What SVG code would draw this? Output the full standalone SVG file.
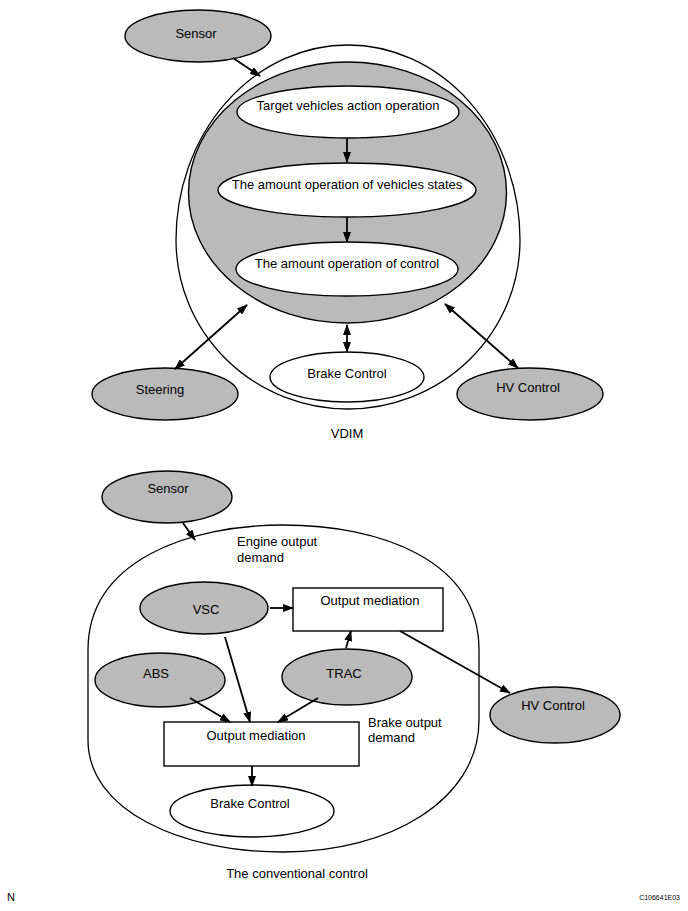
<svg xmlns="http://www.w3.org/2000/svg" width="688" height="911" viewBox="0 0 688 911">
<style>
text{font-family:"Liberation Sans",Arial,sans-serif;font-size:13px;fill:#000}
.c{text-anchor:middle}
.g{fill:#bababa;stroke:#000;stroke-width:1.4}
.w{fill:#fff;stroke:#000;stroke-width:1.4}
.ln{fill:none;stroke:#000;stroke-width:1.3}
.a{fill:none;stroke:#000;stroke-width:1.8;marker-end:url(#ah)}
.d{fill:none;stroke:#000;stroke-width:1.8;marker-start:url(#ah);marker-end:url(#ah)}
</style>
<defs>
<marker id="ah" markerUnits="userSpaceOnUse" markerWidth="11" markerHeight="8" refX="10" refY="4" orient="auto-start-reverse">
<path d="M0,0 L11,4 L0,8 z" fill="#000"/>
</marker>
</defs>
<rect width="688" height="911" fill="#fff"/>

<!-- VDIM section -->
<g id="vdim-outer"><path class="ln" fill="#fff" d="M176,240 A172,195 0 0 1 520,240 A172,169 0 0 1 176,240 Z"/></g>
<g id="vdim-core"><ellipse class="g" cx="347.5" cy="192.5" rx="159" ry="130.5"/></g>
<g id="sensor1"><ellipse class="g" cx="198" cy="36" rx="73" ry="26"/><text class="c" x="196" y="38">Sensor</text></g>
<g id="target"><ellipse class="w" cx="348" cy="112" rx="111" ry="26"/><text class="c" x="348" y="110">Target vehicles action operation</text></g>
<g id="states"><ellipse class="w" cx="347" cy="190" rx="129" ry="27"/><text class="c" x="347" y="189">The amount operation of vehicles states</text></g>
<g id="control"><ellipse class="w" cx="347" cy="269" rx="111" ry="27"/><text class="c" x="347" y="268">The amount operation of control</text></g>
<g id="steering"><ellipse class="g" cx="165" cy="394" rx="73" ry="26"/><text class="c" x="160" y="394">Steering</text></g>
<g id="brake1"><ellipse class="w" cx="347" cy="377" rx="77" ry="25"/><text class="c" x="347" y="378">Brake Control</text></g>
<g id="hv1"><ellipse class="g" cx="530" cy="394" rx="73" ry="26"/><text class="c" x="528" y="392">HV Control</text></g>
<text class="c" x="347" y="438">VDIM</text>

<!-- Conventional section -->
<g id="conv-outer"><path class="ln" d="M88,740 L88,650 C88,560 190,525 283,525 C380,525 479,560 479,650 L479,720 C479,800 390,852 283,852 C180,852 88,810 88,740 Z"/></g>
<g id="sensor2"><ellipse class="g" cx="167" cy="497" rx="65" ry="26"/><text class="c" x="168" y="493">Sensor</text></g>
<text x="237" y="546">Engine output</text>
<text x="237" y="562">demand</text>
<g id="vsc"><ellipse class="g" cx="204" cy="608" rx="64" ry="26"/><text class="c" x="206" y="614">VSC</text></g>
<g id="med1"><rect class="w" x="293" y="588" width="150" height="43"/><text class="c" x="370" y="605">Output mediation</text></g>
<g id="abs"><ellipse class="g" cx="160" cy="680" rx="65" ry="27"/><text class="c" x="156" y="678">ABS</text></g>
<g id="trac"><ellipse class="g" cx="347" cy="677" rx="65" ry="28"/><text class="c" x="344" y="678">TRAC</text></g>
<g id="hv2"><ellipse class="g" cx="555" cy="715" rx="65" ry="28"/><text class="c" x="553" y="710">HV Control</text></g>
<g id="med2"><rect class="w" x="164" y="722" width="195" height="44"/><text class="c" x="256" y="740">Output mediation</text></g>
<text x="368" y="727">Brake output</text>
<text x="368" y="742">demand</text>
<g id="brake2"><ellipse class="w" cx="252" cy="811" rx="82" ry="26"/><text class="c" x="250" y="808">Brake Control</text></g>
<text class="c" x="297" y="878">The conventional control</text>

<text x="7" y="901" style="font-size:11px">N</text>
<text x="680" y="900" style="font-size:7px;text-anchor:end">C106641E03</text>

<g id="connectors">
<path class="a" d="M233,58 L260,76"/>
<path class="a" d="M347,138 L347,162"/>
<path class="a" d="M347,217 L347,242"/>
<path class="d" d="M247,305 L175,369"/>
<path class="d" d="M347,325 L347,352"/>
<path class="d" d="M445,304 L518,368"/>
<path class="a" d="M183,523 L195,540"/>
<path class="a" d="M270,608 L293,608"/>
<path class="a" d="M346,648 L351,631"/>
<path class="a" d="M400,631 L510,693"/>
<path class="a" d="M225,637 L250,722"/>
<path class="a" d="M190,698 L230,722"/>
<path class="a" d="M318,698 L278,722"/>
<path class="a" d="M252,766 L252,786"/>
</g>
</svg>
